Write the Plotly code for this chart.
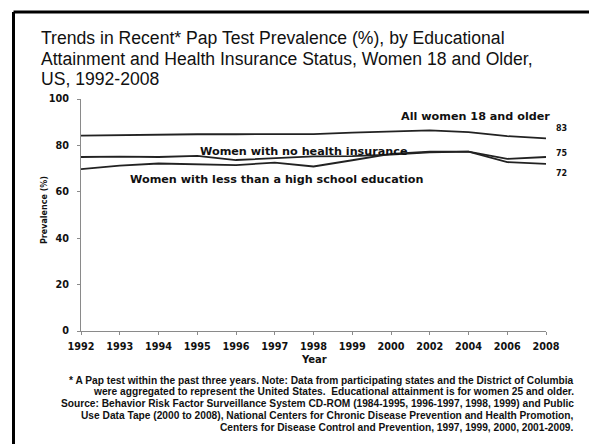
import plotly.graph_objects as go

# Survey years shown on the category axis
years = ["1992", "1993", "1994", "1995", "1996", "1997", "1998", "1999",
         "2000", "2002", "2004", "2006", "2008"]

# Recent Pap test prevalence (%) by group
all_women = [84.2, 84.5, 84.7, 84.8, 84.8, 84.9, 84.9, 85.5, 86.0, 86.5, 85.7, 84.0, 83.0]
no_insurance = [75.0, 75.2, 75.0, 75.5, 73.7, 74.5, 75.3, 75.4, 76.0, 77.0, 77.3, 74.2, 75.0]
less_than_hs = [69.8, 71.3, 72.2, 71.9, 71.5, 72.6, 70.9, 73.6, 76.3, 77.3, 77.3, 72.8, 72.0]

series_names = ["All women 18 and older",
                "Women with no health insurance",
                "Women with less than a high school education"]

title_lines = [
    "Trends in Recent* Pap Test Prevalence (%), by Educational",
    "Attainment and Health Insurance Status, Women 18 and Older,",
    "US, 1992-2008",
]

footnote_lines = [
    "* A Pap test within the past three years. Note: Data from participating states and the District of Columbia",
    "were aggregated to represent the United States.  Educational attainment is for women 25 and older.",
    "Source: Behavior Risk Factor Surveillance System CD-ROM (1984-1995, 1996-1997, 1998, 1999) and Public",
    "Use Data Tape (2000 to 2008), National Centers for Chronic Disease Prevention and Health Promotion,",
    "Centers for Disease Control and Prevention, 1997, 1999, 2000, 2001-2009.",
]

W, H = 589, 444
L, R, T, B = 81, 546, 99, 331  # plot area in pixels


def px(xp):
    return (xp - L) / (R - L)


def py(yp):
    return (B - yp) / (B - T)


BOLD = "DejaVu Sans"
line_color = "#222222"

fig = go.Figure()
for vals in (all_women, no_insurance, less_than_hs):
    fig.add_trace(go.Scatter(x=years, y=vals, mode="lines",
                             line=dict(color=line_color, width=1.8),
                             showlegend=False, hoverinfo="skip"))

annotations = []

# Title, one annotation per line
for i, line in enumerate(title_lines):
    annotations.append(dict(
        text=line, xref="paper", yref="paper", x=px(39), y=py(38 + 20.7 * i),
        xanchor="left", yanchor="middle", align="left", showarrow=False,
        font=dict(family="Liberation Sans", size=17.6, color="#111")))

# Series labels
label_pos = [(475.5, 116), (304, 151), (277, 179.5)]
for name, (lx, ly) in zip(series_names, label_pos):
    annotations.append(dict(
        text="<b>%s</b>" % name, xref="paper", yref="paper",
        x=px(lx), y=py(ly), xanchor="center", yanchor="middle",
        showarrow=False, font=dict(family=BOLD, size=11.2, color="#111")))

# End-of-line values
end_offsets = [-9.5, -4, 10]
for vals, dy in zip((all_women, no_insurance, less_than_hs), end_offsets):
    annotations.append(dict(
        text="<b>%d</b>" % round(vals[-1]), xref="x", yref="y",
        x=len(years) - 1, y=vals[-1], xshift=8, yshift=-dy,
        xanchor="left", yanchor="middle", showarrow=False,
        font=dict(family=BOLD, size=8, color="#111")))

# Axis titles
annotations.append(dict(
    text="<b>Prevalence (%)</b>", xref="paper", yref="paper",
    x=px(44), y=py(210), textangle=-90, showarrow=False,
    xanchor="center", yanchor="middle",
    font=dict(family=BOLD, size=8, color="#111")))
annotations.append(dict(
    text="<b>Year</b>", xref="paper", yref="paper",
    x=px(313.5), y=py(359.5), showarrow=False,
    xanchor="center", yanchor="middle",
    font=dict(family=BOLD, size=10, color="#111")))

# Footnote, right-aligned, one annotation per line
for i, line in enumerate(footnote_lines):
    annotations.append(dict(
        text="<b>%s</b>" % line, xref="paper", yref="paper",
        x=px(576), y=py(380 + 11.75 * i),
        xanchor="right", yanchor="middle", showarrow=False,
        font=dict(family="Liberation Sans", size=10.2, color="#111")))

# Frame along the top and left edges
shapes = [
    dict(type="line", xref="paper", yref="paper",
         x0=px(13.5), x1=px(600), y0=py(12), y1=py(12),
         line=dict(color="black", width=3)),
    dict(type="line", xref="paper", yref="paper",
         x0=px(13.5), x1=px(13.5), y0=py(12), y1=py(460),
         line=dict(color="black", width=3)),
]

tick_font = dict(family=BOLD, size=9.7, color="#111", weight="bold")

fig.update_layout(
    width=W, height=H,
    margin=dict(l=L, r=W - R, t=T, b=H - B, pad=0),
    paper_bgcolor="white", plot_bgcolor="white",
    annotations=annotations, shapes=shapes,
    xaxis=dict(type="category", range=[0, len(years) - 1],
               showgrid=False, zeroline=False,
               showline=True, linecolor="#8a8a8a", linewidth=1,
               ticks="outside", ticklen=3, tickcolor="#8a8a8a",
               tickfont=tick_font, ticklabelstandoff=3),
    yaxis=dict(range=[0, 100], tickvals=[0, 20, 40, 60, 80, 100],
               showgrid=False, zeroline=False,
               showline=True, linecolor="#8a8a8a", linewidth=1,
               ticks="outside", ticklen=3, tickcolor="#8a8a8a",
               tickfont=tick_font, ticklabelstandoff=6),
)

fig.write_html("out.html")
